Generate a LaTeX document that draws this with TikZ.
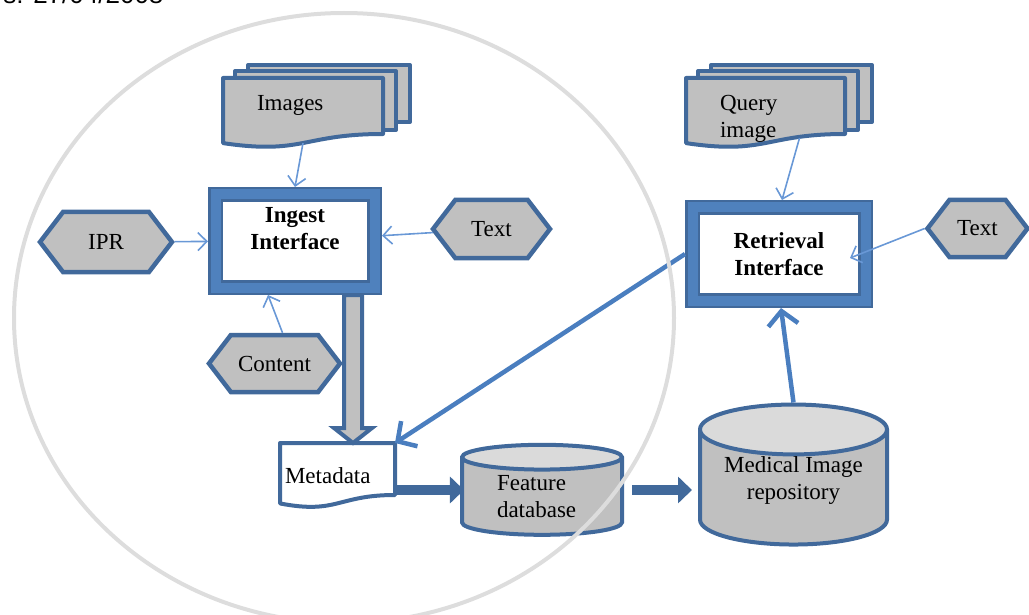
\documentclass[tikz,border=0pt]{standalone}
\usepackage{fontspec}
\setmainfont{Liberation Serif}
\newfontfamily\headfont{Liberation Sans}
\usetikzlibrary{arrows.meta,calc,positioning,shapes.geometric,shapes.symbols,backgrounds}

\definecolor{edgeblue}{RGB}{65,105,155}
\definecolor{bandblue}{RGB}{79,129,189}
\definecolor{boxgray}{RGB}{192,192,192}
\definecolor{topgray}{RGB}{218,218,218}
\definecolor{linkblue}{RGB}{105,152,214}
\definecolor{flowblue}{RGB}{74,126,191}
\definecolor{ringgray}{RGB}{221,221,221}

\newcommand{\labelfont}{\fontsize{23}{27}\selectfont}

\tikzset{
  docpage/.style={rectangle, inner sep=0pt, outer sep=0pt, align=left},
  pagefill/.style={draw=edgeblue, line width=4pt, fill=boxgray, line join=round},
  iface/.style={rectangle, draw=edgeblue, line width=2.5pt, double=bandblue,
    double distance=10pt, fill=white, outer sep=7.5pt, align=center, font=\labelfont\bfseries},
  hexbox/.style={signal, signal to=west and east, signal pointer angle=105,
    draw=edgeblue, line width=4.5pt, fill=boxgray, inner sep=0pt},
  store/.style={cylinder, shape border rotate=90, draw=edgeblue, line width=4pt,
    cylinder uses custom fill, cylinder body fill=boxgray, cylinder end fill=topgray,
    inner sep=0pt, align=left},
  thinlink/.style={draw=linkblue, line width=1.6pt, -{Straight Barb[length=9pt,width=18pt]}},
  widelink/.style={draw=flowblue, line width=4.5pt, -{Straight Barb[length=14pt,width=30pt]}},
  flowlink/.style={draw=edgeblue, line width=10pt, -{Triangle[length=14pt,width=26pt]}},
  blockarrow/.style={draw=edgeblue, line width=4pt, fill=boxgray, line join=miter}
}

\newcommand{\wavepage}[1]{(#1.north west) -- (#1.north east)
  -- ($(#1.north east)!0.8!(#1.south east)$)
  .. controls ($(#1.north)!0.8!(#1.south)$) and ($(#1.north)!1.1!(#1.south)$)
  .. ($(#1.north west)!0.93!(#1.south west)$) -- cycle}
\newcommand{\backpages}[1]{%
  \draw[pagefill] ($(#1.north west)+(25,-13)$) rectangle ($(#1.north east)+(27,44)$);
  \draw[pagefill] ($(#1.north west)+(12,-7)$) rectangle ($(#1.north east)+(13,52)$);}

\begin{document}
\begin{tikzpicture}[x=1pt, y=-1pt, font=\labelfont]
\useasboundingbox (0,0) rectangle (1029,615);

\node[anchor=base east, font=\fontsize{26}{30}\selectfont\headfont] (stamp) at (167,4) {s: 27/04/2008};

\node[docpage, minimum width=160pt, minimum height=70pt, text width=92pt, text depth=20pt] (images) at (303,113) {Images};
\node[iface, minimum width=159pt, minimum height=93pt, text depth=26pt] (ingest) at (295,241) {Ingest\\Interface};
\node[hexbox, minimum width=132pt, minimum height=60pt] (ipr) at (106,242) {IPR};
\node[hexbox, minimum width=117pt, minimum height=58pt] (txtleft) at (491.5,229) {Text};
\node[hexbox, minimum width=131pt, minimum height=57pt] (content) at (274.5,363.5) {Content};
\node[docpage, minimum width=115pt, minimum height=65pt, text width=105pt] (metadata) at (337.5,475.5) {Metadata};
\node[store, minimum width=160pt, minimum height=90pt, aspect=0.275, text width=90pt] (featdb) at (542,497) {Feature\\database};
\node[store, minimum width=187pt, minimum height=140pt, aspect=0.36, align=center, text depth=19pt] (medrepo) at (793.5,488) {Medical Image\\repository};

\node[docpage, minimum width=159pt, minimum height=70pt, text width=91pt, text height=26pt] (query) at (765.5,113) {Query\\image};
\node[iface, minimum width=173pt, minimum height=93pt] (retrieval) at (779,254) {Retrieval\\Interface};
\node[hexbox, minimum width=100pt, minimum height=57pt] (txtright) at (977.5,228.5) {Text};

\begin{scope}[on background layer]
  \backpages{images}
  \draw[pagefill] \wavepage{images};
  \backpages{query}
  \draw[pagefill] \wavepage{query};
  \draw[pagefill, fill=white] \wavepage{metadata};
\end{scope}

\draw[thinlink] ($(images.north)!0.93!(images.south)$) -- (ingest.north);
\draw[thinlink] (ipr) -- (ingest);
\draw[thinlink] (txtleft) -- (ingest);
\draw[thinlink] ($(content.north)+(8,0)$) -- ($(ingest.south)+(-27,0)$);

\coordinate (blocktop) at ($(ingest.south east)+(-29,0)$);
\coordinate (blocktip) at (blocktop |- metadata.north);
\draw[blockarrow] ($(blocktop)+(-9,0)$) -- ($(blocktop)+(9,0)$) -- ($(blocktip)+(9,-15)$)
  -- ($(blocktip)+(19,-15)$) -- (blocktip) -- ($(blocktip)+(-19,-15)$)
  -- ($(blocktip)+(-9,-15)$) -- cycle;

\coordinate (metaout) at ($(metadata.east)+(0,14.5)$);
\draw[flowlink] (metaout) -- ($(metaout -| featdb.west)+(4,0)$);
\draw[flowlink] ($(metaout -| featdb.east)+(8,0)$) -- ($(metaout -| medrepo.west)+(-6,0)$);

\draw[thinlink] ($(query.south)+(34,-10)$) -- ($(retrieval.north)+(3,0)$);
\draw[thinlink] (txtright.west) -- ($(retrieval.east)+(-23,4)$);
\draw[widelink] (medrepo.north) -- ($(retrieval.south)+(2,0)$);
\draw[widelink] (retrieval.west) -- (metadata.north east);

\draw[ringgray, line width=4pt] (344,318) ellipse [x radius=330pt, y radius=305pt];
\end{tikzpicture}
\end{document}
